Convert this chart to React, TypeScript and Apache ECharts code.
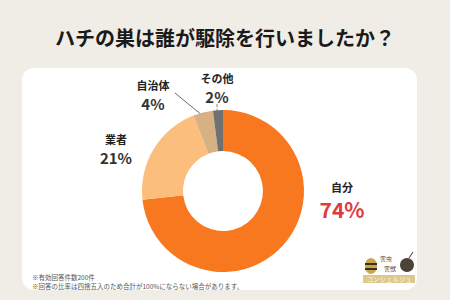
import React, { useEffect, useRef } from "react";
import * as echarts from "echarts";

const titleText = "ハチの巣は誰が駆除を行いましたか？";
const categories = ["自分", "業者", "自治体", "その他"];
const values = [74, 21, 4, 2];
const colors = ["#f8781f", "#fbbe7c", "#d7b083", "#707070"];
const notes = ["※有効回答件数200件", "※回答の比率は四捨五入のため合計が100%にならない場合があります。"];

const FONT = "'Noto Sans CJK JP', 'Noto Sans', sans-serif";

// label anchor positions (center of label block) and optional guide lines
const labelPos: [number, number][] = [
  [342, 200],
  [116, 149],
  [153, 95],
  [217, 88],
];
const labelLines: (number[][] | null)[] = [
  null,
  null,
  [[175, 93], [203, 116]],
  [[217, 104], [217, 112]],
];

export default function App() {
  const ref = useRef<HTMLDivElement>(null);
  useEffect(() => {
    if (!ref.current) return;
    const chart = echarts.init(ref.current, null, { renderer: "svg" });
    const data = categories.map((name, i) => ({
      name,
      value: values[i],
      itemStyle: { color: colors[i] },
      labelLine: {
        show: labelLines[i] != null,
        lineStyle: {
          color: i === 3 ? "#666" : "#444",
          width: 0.8,
          type: i === 3 ? "dashed" : "solid",
        },
      },
      label: {
        formatter: i === 0 ? "{n|{b}}\n{r|{c}%}" : "{n|{b}}\n{v|{c}%}",
      },
    }));
    chart.setOption({
      animation: false,
      backgroundColor: "#f0ece6",
      title: {
        text: titleText,
        left: "center",
        top: 22,
        textStyle: { fontFamily: FONT, fontSize: 20, fontWeight: "bold", color: "#1a1a1a" },
      },
      graphic: {
        elements: [
          {
            type: "rect",
            z: -10,
            shape: { x: 22, y: 68, width: 395, height: 222, r: 12 },
            style: { fill: "#ffffff" },
          },
          ...notes.map((t, i) => ({
            type: "text",
            z: 100,
            x: 32,
            y: i === 0 ? 276.5 : 286,
            style: {
              text: t,
              fontFamily: FONT,
              fontSize: 6.5,
              fill: "#555",
              verticalAlign: "middle",
            },
          })),
          // logo
          { type: "ellipse", z: 100, shape: { cx: 371, cy: 266, rx: 6, ry: 8 }, style: { fill: "#c9a64e" } },
          { type: "rect", z: 101, shape: { x: 365, y: 263, width: 12, height: 2 }, style: { fill: "#3a3020" } },
          { type: "rect", z: 101, shape: { x: 365, y: 268, width: 12, height: 2 }, style: { fill: "#3a3020" } },
          { type: "circle", z: 100, shape: { cx: 407, cy: 265, r: 7 }, style: { fill: "#4a4538" } },
          { type: "line", z: 100, shape: { x1: 409, y1: 258, x2: 413, y2: 252 }, style: { stroke: "#333", lineWidth: 1 } },
          {
            type: "text", z: 100, x: 386, y: 258,
            style: { text: "害虫", fontFamily: FONT, fontSize: 6, lineHeight: 7, fill: "#444", align: "center", verticalAlign: "middle" },
          },
          {
            type: "text", z: 100, x: 390, y: 268,
            style: { text: "害獣", fontFamily: FONT, fontSize: 6, lineHeight: 7, fill: "#444", align: "center", verticalAlign: "middle" },
          },
          { type: "rect", z: 100, shape: { x: 363, y: 275, width: 52, height: 8 }, style: { fill: "#dcc88c" } },
          {
            type: "text", z: 101, x: 389, y: 279,
            style: { text: "コンシェルジュ", fontFamily: FONT, fontSize: 6.5, fill: "#fff8e0", align: "center", verticalAlign: "middle" },
          },
        ],
      },
      series: [
        {
          type: "pie",
          center: [223, 191],
          radius: [40, 81],
          startAngle: 90,
          clockwise: true,
          data,
          emphasis: { disabled: true },
          label: {
            show: true,
            position: "outside",
            fontFamily: FONT,
            align: "center",
            rich: {
              n: { fontFamily: FONT, fontSize: 11, fontWeight: "bold", color: "#222", lineHeight: 17, align: "center" },
              v: { fontFamily: FONT, fontSize: 15, fontWeight: "bold", color: "#333", lineHeight: 20, align: "center" },
              r: { fontFamily: FONT, fontSize: 21, fontWeight: "bold", color: "#e03a3f", lineHeight: 26, align: "center" },
            },
          },
          labelLayout: (params: any) => {
            const i = params.dataIndex;
            const res: any = {
              x: labelPos[i][0],
              y: labelPos[i][1],
              align: "center",
              verticalAlign: "middle",
            };
            if (labelLines[i]) res.labelLinePoints = labelLines[i];
            return res;
          },
        },
      ],
    });
    return () => chart.dispose();
  }, []);
  return (
    <div
      ref={ref}
      style={{ position: "fixed", left: 0, top: 0, width: 450, height: 300 }}
    />
  );
}
